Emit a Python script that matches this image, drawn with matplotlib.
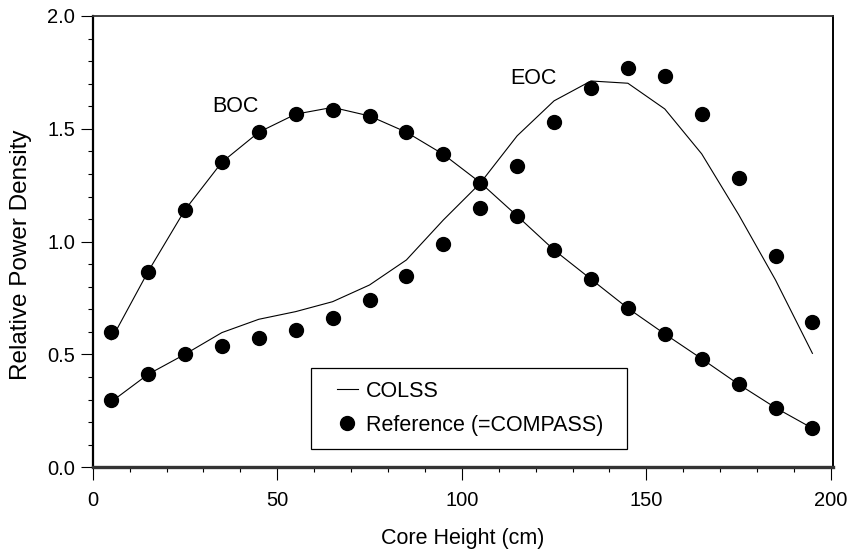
import numpy as np
import matplotlib
matplotlib.use("Agg")
import matplotlib.pyplot as plt
from matplotlib.ticker import MultipleLocator
from matplotlib.legend_handler import HandlerLine2D
from matplotlib.lines import Line2D

# core height of each node (cm)
core_height =   [5, 15, 25, 35, 45, 55, 65, 75, 85, 95,
                 105, 115, 125, 135, 145, 155, 165, 175, 185, 195]

# beginning of cycle
boc_colss   =   [0.565, 0.867, 1.141, 1.352, 1.485, 1.565, 1.595, 1.557, 1.485, 1.387,
                 1.262, 1.114, 0.963, 0.834, 0.705, 0.591, 0.481, 0.368, 0.264, 0.173]
boc_ref     =   [0.598, 0.867, 1.141, 1.352, 1.485, 1.565, 1.582, 1.557, 1.485, 1.387,
                 1.262, 1.114, 0.963, 0.834, 0.705, 0.591, 0.481, 0.368, 0.264, 0.173]

# end of cycle
eoc_colss   =   [0.290, 0.412, 0.501, 0.597, 0.656, 0.690, 0.734, 0.808, 0.919, 1.096,
                 1.259, 1.469, 1.624, 1.712, 1.702, 1.588, 1.389, 1.120, 0.830, 0.505]
eoc_ref     =   [0.298, 0.412, 0.501, 0.538, 0.572, 0.609, 0.660, 0.740, 0.847, 0.990,
                 1.148, 1.337, 1.532, 1.680, 1.769, 1.734, 1.566, 1.281, 0.937, 0.644]

x_label     =   "Core Height (cm)"
y_label     =   "Relative Power Density"
line_desc   =   "COLSS"
ref_desc    =   "Reference (=COMPASS)"

plt.rcParams['font.family'] = ['Liberation Sans', 'DejaVu Sans']


def style_axes(ax):
    ax.set_xlim(0, 200.5)
    ax.set_ylim(0, 2.0)
    ax.xaxis.set_major_locator(MultipleLocator(50))
    ax.xaxis.set_minor_locator(MultipleLocator(10))
    ax.yaxis.set_major_locator(MultipleLocator(0.5))
    ax.yaxis.set_minor_locator(MultipleLocator(0.1))
    ax.xaxis.set_major_formatter(matplotlib.ticker.FormatStrFormatter('%d'))
    ax.yaxis.set_major_formatter(matplotlib.ticker.FormatStrFormatter('%.1f'))

    ax.tick_params(axis='both', which='both', direction='out', width=0.8, colors='black', labelsize=14.5)
    ax.tick_params(axis='both', which='major', length=9)
    ax.tick_params(axis='both', which='minor', length=3.6)
    ax.tick_params(axis='x', which='major', pad=8)
    ax.tick_params(axis='y', which='major', pad=3.5)
    ax.tick_params(top=False, right=False)

    ax.spines['left'].set_linewidth(1.6)
    ax.spines['right'].set_linewidth(1.4)
    ax.spines['top'].set_linewidth(1.3)
    ax.spines['top'].set_color('#333333')
    ax.spines['bottom'].set_linewidth(2.4)
    ax.spines['bottom'].set_color('#333333')


def main():
    fig =   plt.figure(figsize=(8.56, 5.57), dpi=100)
    ax  =   fig.add_axes([0.1083, 0.161, 0.8645, 0.8103])

    ax.plot(core_height, boc_colss, color='black', lw=0.8, zorder=2)
    ax.plot(core_height, eoc_colss, color='black', lw=0.8, zorder=2)
    ax.plot(core_height, boc_ref, 'o', color='black', ms=10, zorder=3)
    ax.plot(core_height, eoc_ref, 'o', color='black', ms=10, zorder=3)

    ax.text(38.6, 1.60, "BOC", fontsize=15.5, ha='center', va='center')
    ax.text(119.3, 1.725, "EOC", fontsize=15.5, ha='center', va='center')

    style_axes(ax)

    ax.set_xlabel(x_label, fontsize=15.5)
    ax.xaxis.set_label_coords(0.5, -0.135)
    ax.set_ylabel(y_label, fontsize=17.5)
    ax.yaxis.set_label_coords(-0.082, 0.47)

    # legend: short line handle shifted right inside the handle box
    h_line  =   Line2D([], [], color='black', lw=0.8)
    h_dot   =   Line2D([], [], ls='none', marker='o', color='black', ms=10)
    leg =   ax.legend([h_line, h_dot], [line_desc, ref_desc], loc='lower left',
                      bbox_to_anchor=(0.295, 0.04, 0.4274, 0.18), mode='expand',
                      borderaxespad=0, fontsize=15.5, frameon=True, fancybox=False,
                      framealpha=1, edgecolor='black', handlelength=1.54,
                      handletextpad=0.39, borderpad=0.62, labelspacing=0.6,
                      handler_map={Line2D: HandlerLine2D(xpad=0.59)})
    leg.get_frame().set_linewidth(0.9)

    fig.savefig("out.png", dpi=100)


if __name__ == '__main__':
    main()
